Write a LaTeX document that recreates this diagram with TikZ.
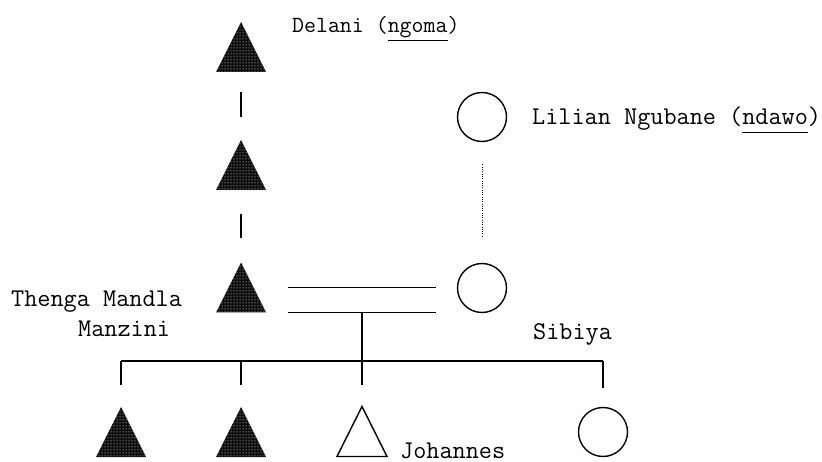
\documentclass[tikz,border=0pt]{standalone}
\usetikzlibrary{patterns}
\begin{document}
\begin{tikzpicture}[x=1pt, y=-1pt,
  person/.style={minimum width=50pt, minimum height=50pt, inner sep=0pt, outer sep=0pt},
  female/.style={circle, draw, line width=1.4pt, minimum size=49pt, inner sep=0pt, outer sep=0pt},
  link/.style={line width=1.3pt},
  faint/.style={line width=1pt, dash pattern=on 1pt off 1.3pt},
  txt/.style={inner sep=0pt, anchor=base west, font=\fontsize{25.5}{30}\selectfont\ttfamily},
]
\useasboundingbox (0,0) rectangle (822,462);

% males (triangles) and females (circles)
\node[person] (t1) at (241,47) {};
\node[person] (t2) at (241,165) {};
\node[person] (t3) at (241,287.5) {};
\node[female] (c1) at (482,117) {};
\node[female] (c2) at (482,288) {};
\node[person] (k1) at (121,432) {};
\node[person] (k2) at (241,432) {};
\node[person] (k3) at (362,431.5) {};
\node[female] (k4) at (603,432) {};

% stippled filled triangles
\foreach \n in {t1,t2,t3,k1,k2} {
  \fill[black!95] (\n.south west) -- (\n.north) -- (\n.south east) -- cycle;
  \fill[pattern=dots, pattern color=white] (\n.south west) -- (\n.north) -- (\n.south east) -- cycle;
}
% open triangle
\draw[line width=1.4pt, line join=miter] (k3.south west) -- (k3.north) -- (k3.south east) -- cycle;

% line of descent (patrilineal)
\draw[link, shorten <=20pt, shorten >=23pt] (t1.south) -- (t2.north);
\draw[link, shorten <=24pt, shorten >=24pt] (t2.south) -- (t3.north);
\draw[faint, shorten <=23pt, shorten >=26pt] (c1.south) -- (c2.north);

% marriage
\draw[link, shorten <=22pt, shorten >=22pt] (t3.east) -- (c2.west |- t3.east);
\draw[link, shorten <=22pt, shorten >=22pt] (t3.south east) -- (c2.west |- t3.south);

% children
\coordinate (fam) at (k3.north |- t3.south);
\coordinate (sib) at (k3.north |- 0,361);
\draw[link] (fam) -- (sib);
\draw[link] (k1 |- sib) -- (k4 |- sib);
\foreach \n in {k1,k2,k3} \draw[link, shorten >=22pt] (\n |- sib) -- (\n.north);
\draw[link, shorten >=20pt] (k4 |- sib) -- (k4.north);

% names
\node[txt, font=\fontsize{23.2}{28}\selectfont\ttfamily] (delani) at (292,33) {Delani (\underline{ngoma})};
\node[txt] (lilian) at (532,125) {Lilian Ngubane (\underline{ndawo\vphantom{g}})};
\node[txt] (thenga) at (11,307) {Thenga Mandla};
\node[txt] (manzini) at (78,337) {Manzini};
\node[txt] (sibiya) at (533,340) {Sibiya};
\node[txt] (johannes) at (400,458) {Johannes};
\end{tikzpicture}
\end{document}
